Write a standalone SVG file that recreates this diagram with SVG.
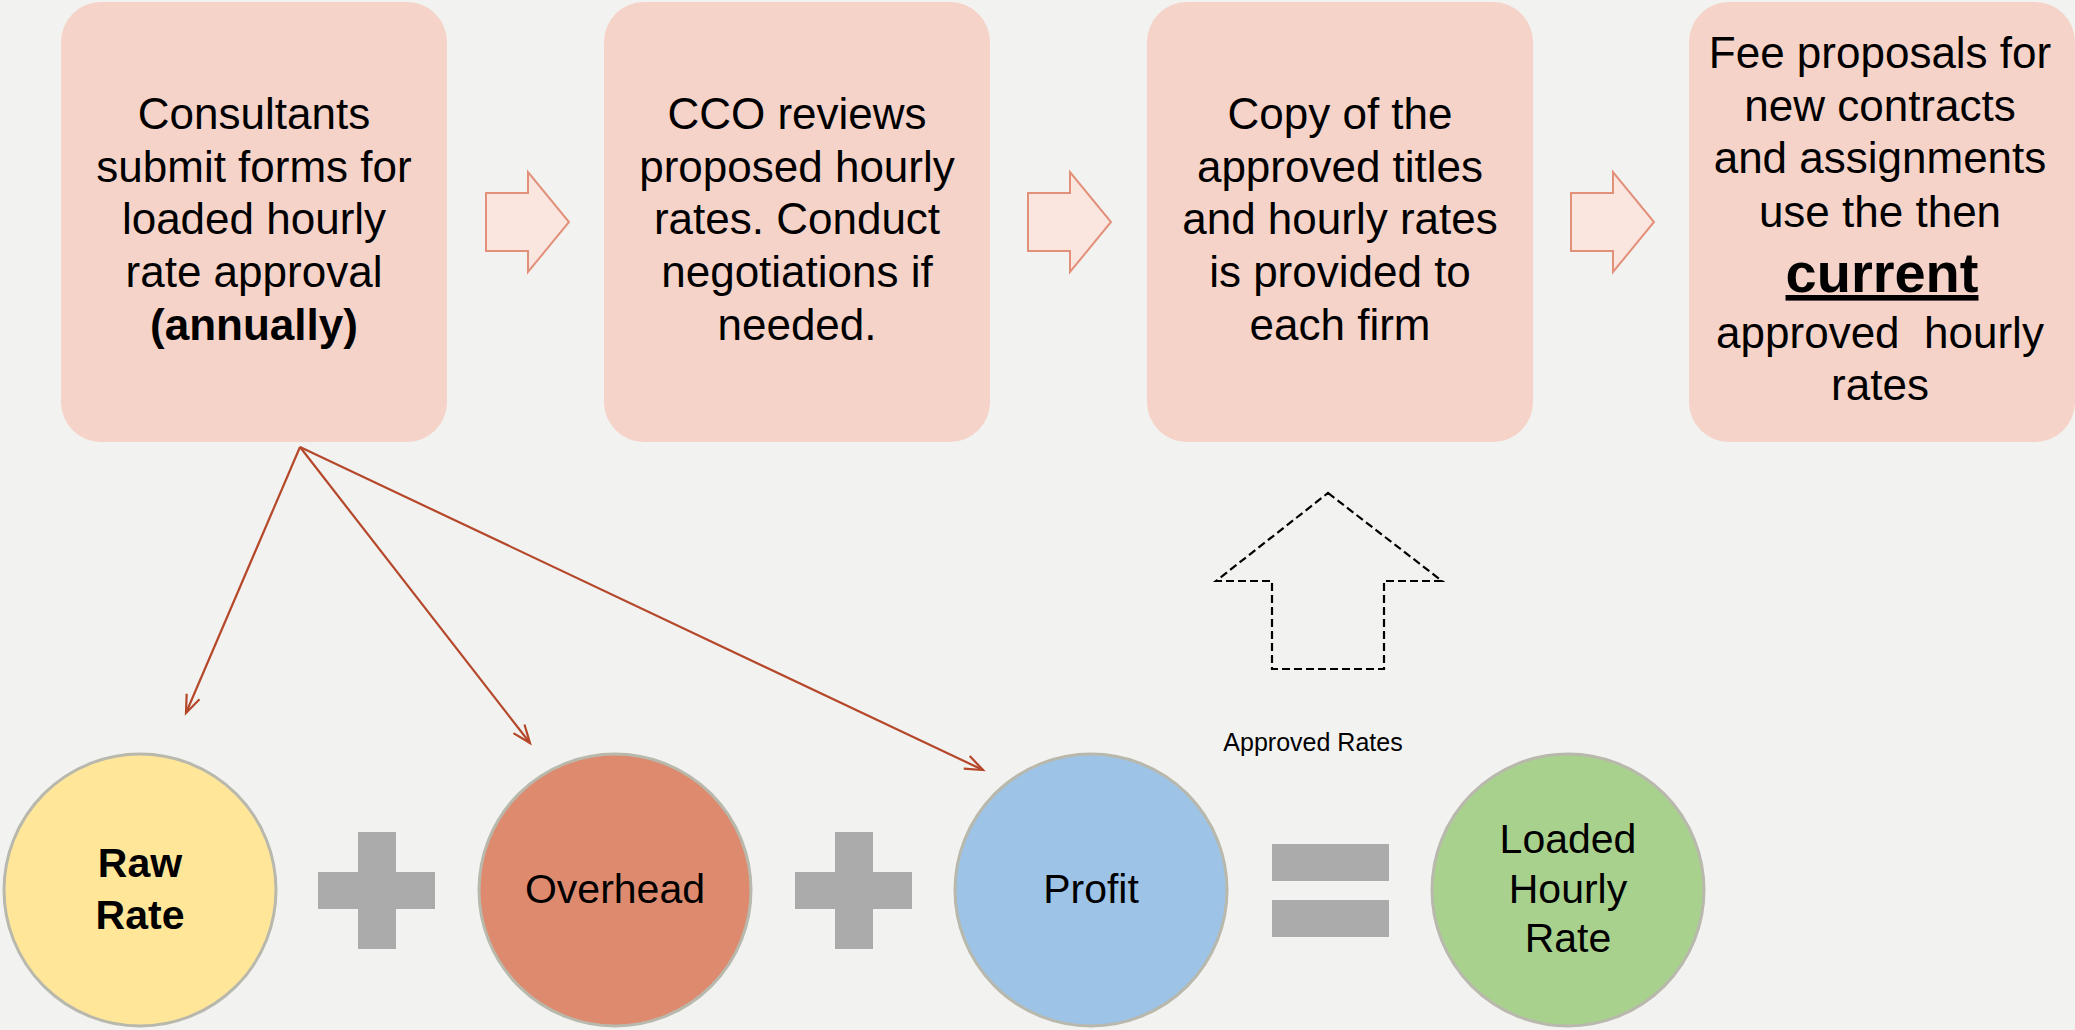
<svg xmlns="http://www.w3.org/2000/svg" width="2075" height="1030" viewBox="0 0 2075 1030">
  <defs>
    <style>
      .box { fill: #F5D3C8; }
      .step { fill: #FAE5DF; stroke: #E3907A; stroke-width: 2; }
      .t { font-family: "Liberation Sans", Arial, sans-serif; font-size: 44px; fill: #000; text-anchor: middle; }
      .b { font-weight: bold; }
      .circ { stroke: #B8B8AC; stroke-width: 3; }
      .ct { font-family: "Liberation Sans", Arial, sans-serif; font-size: 41px; fill: #000; text-anchor: middle; }
      .op { fill: #ABABAB; }
      .conn { fill: none; stroke: #B5472A; stroke-width: 2.2; }
      .dash { fill: none; stroke: #000; stroke-width: 2.2; stroke-dasharray: 8 4; }
      .small { font-family: "Liberation Sans", Arial, sans-serif; font-size: 25px; fill: #000; text-anchor: middle; }
    </style>
    <marker id="open" markerUnits="userSpaceOnUse" markerWidth="24" markerHeight="18" refX="20" refY="8" orient="auto">
      <path d="M2,1 L20,8 L2,15" fill="none" stroke="#B5472A" stroke-width="2.2"/>
    </marker>
  </defs>
  <rect width="2075" height="1030" fill="#F2F2F0"/>

  <g id="step1">
    <rect class="box" x="61" y="2" width="386" height="440" rx="40" ry="40"/>
    <text class="t" x="254" y="129">Consultants</text>
    <text class="t" x="254" y="182">submit forms for</text>
    <text class="t" x="254" y="234">loaded hourly</text>
    <text class="t" x="254" y="287">rate approval</text>
    <text class="t b" x="254" y="340">(annually)</text>
  </g>
  <g id="step2">
    <rect class="box" x="604" y="2" width="386" height="440" rx="40" ry="40"/>
    <text class="t" x="797" y="129">CCO reviews</text>
    <text class="t" x="797" y="182">proposed hourly</text>
    <text class="t" x="797" y="234">rates. Conduct</text>
    <text class="t" x="797" y="287">negotiations if</text>
    <text class="t" x="797" y="340">needed.</text>
  </g>
  <g id="step3">
    <rect class="box" x="1147" y="2" width="386" height="440" rx="40" ry="40"/>
    <text class="t" x="1340" y="129">Copy of the</text>
    <text class="t" x="1340" y="182">approved titles</text>
    <text class="t" x="1340" y="234">and hourly rates</text>
    <text class="t" x="1340" y="287">is provided to</text>
    <text class="t" x="1340" y="340">each firm</text>
  </g>
  <g id="step4">
    <rect class="box" x="1689" y="2" width="386" height="440" rx="40" ry="40"/>
    <text class="t" x="1880" y="68">Fee proposals for</text>
    <text class="t" x="1880" y="121">new contracts</text>
    <text class="t" x="1880" y="173">and assignments</text>
    <text class="t" x="1880" y="227">use the then</text>
    <text class="t b" x="1882" y="292" style="font-size:56px" text-decoration="underline">current</text>
    <text class="t" x="1880" y="348" style="white-space:pre">approved  hourly</text>
    <text class="t" x="1880" y="400">rates</text>
  </g>

  <g id="flow-arrows">
    <path class="step" d="M486,193 H528 V172 L569,222 L528,272 V251 H486 Z"/>
    <path class="step" d="M1028,193 H1070 V172 L1111,222 L1070,272 V251 H1028 Z"/>
    <path class="step" d="M1571,193 H1613 V172 L1654,222 L1613,272 V251 H1571 Z"/>
  </g>

  <g id="approved-rates">
    <path class="dash" d="M1328,493 L1442,581 H1384 V669 H1272 V581 H1216 Z"/>
    <text class="small" x="1313" y="751">Approved Rates</text>
  </g>

  <g id="connectors">
    <line class="conn" x1="300" y1="447" x2="186" y2="713" marker-end="url(#open)"/>
    <line class="conn" x1="300" y1="447" x2="530" y2="743" marker-end="url(#open)"/>
    <line class="conn" x1="300" y1="447" x2="983" y2="770" marker-end="url(#open)"/>
  </g>

  <g id="raw-rate">
    <circle class="circ" cx="140" cy="890" r="136" fill="#FFE699"/>
    <text class="ct b" x="140" y="877">Raw</text>
    <text class="ct b" x="140" y="929">Rate</text>
  </g>
  <g id="plus1">
    <rect class="op" x="358" y="832" width="38" height="117"/>
    <rect class="op" x="318" y="872" width="117" height="37"/>
  </g>
  <g id="overhead">
    <circle class="circ" cx="615" cy="890" r="136" fill="#DE8A6F"/>
    <text class="ct" x="615" y="903">Overhead</text>
  </g>
  <g id="plus2">
    <rect class="op" x="835" y="832" width="38" height="117"/>
    <rect class="op" x="795" y="872" width="117" height="37"/>
  </g>
  <g id="profit">
    <circle class="circ" cx="1091" cy="890" r="136" fill="#9DC3E6"/>
    <text class="ct" x="1091" y="903">Profit</text>
  </g>
  <g id="equals">
    <rect class="op" x="1272" y="844" width="117" height="37"/>
    <rect class="op" x="1272" y="900" width="117" height="37"/>
  </g>
  <g id="loaded-hourly-rate">
    <circle class="circ" cx="1568" cy="890" r="136" fill="#A9D18E"/>
    <text class="ct" x="1568" y="853">Loaded</text>
    <text class="ct" x="1568" y="903">Hourly</text>
    <text class="ct" x="1568" y="952">Rate</text>
  </g>
</svg>
